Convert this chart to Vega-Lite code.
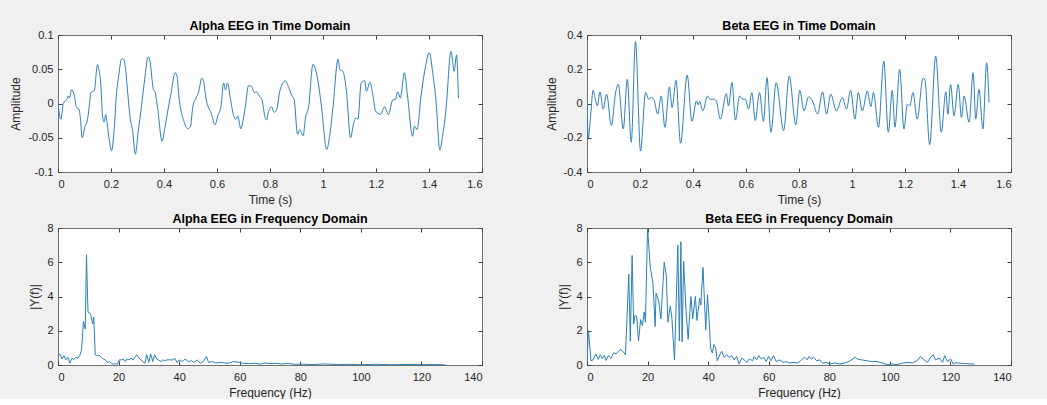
{
  "$schema": "https://vega.github.io/schema/vega-lite/v6.json",
  "background": "#f0f0f0",
  "padding": {"left": 9, "top": 19, "right": 42, "bottom": 0},
  "config": {
    "font": "Liberation Sans",
    "view": {"fill": "white", "stroke": "#707070", "strokeWidth": 1},
    "axis": {"domain": false, "grid": false, "tickSize": -4, "tickColor": "#404040", "labelColor": "#262626", "labelFontSize": 11, "labelFont": "Liberation Sans", "titleFont": "Liberation Sans", "titleFontSize": 12, "titleFontWeight": "normal", "titleColor": "#262626", "titlePadding": 5},
    "axisX": {"labelPadding": 10},
    "axisY": {"labelPadding": 9},
    "title": {"fontSize": 12.5, "fontWeight": "bold", "font": "Liberation Sans", "color": "#000000", "frame": "group", "offset": -3},
    "line": {"color": "#2a7fba", "strokeWidth": 1}
  },
  "datasets": {
    "alphaTime": [
      {"t":0.000,"v":0.000},{"t":0.011,"v":-0.023},{"t":0.020,"v":0.000},{"t":0.033,"v":0.006},{"t":0.039,"v":0.011},{"t":0.043,"v":0.008},{"t":0.051,"v":0.020},{"t":0.061,"v":0.013},{"t":0.070,"v":-0.006},{"t":0.079,"v":-0.008},{"t":0.085,"v":-0.023},{"t":0.091,"v":-0.050},{"t":0.102,"v":-0.033},{"t":0.110,"v":-0.026},{"t":0.118,"v":-0.004},{"t":0.124,"v":0.016},{"t":0.137,"v":0.019},{"t":0.149,"v":0.057},{"t":0.154,"v":0.050},{"t":0.162,"v":0.025},{"t":0.168,"v":-0.018},{"t":0.174,"v":-0.027},{"t":0.180,"v":-0.016},{"t":0.185,"v":-0.028},{"t":0.195,"v":-0.057},{"t":0.202,"v":-0.069},{"t":0.212,"v":-0.038},{"t":0.221,"v":0.016},{"t":0.229,"v":0.040},{"t":0.239,"v":0.064},{"t":0.246,"v":0.065},{"t":0.254,"v":0.054},{"t":0.262,"v":0.020},{"t":0.273,"v":-0.023},{"t":0.281,"v":-0.038},{"t":0.292,"v":-0.074},{"t":0.302,"v":-0.043},{"t":0.315,"v":-0.004},{"t":0.327,"v":0.035},{"t":0.340,"v":0.068},{"t":0.346,"v":0.064},{"t":0.355,"v":0.035},{"t":0.360,"v":0.020},{"t":0.365,"v":0.018},{"t":0.375,"v":-0.004},{"t":0.393,"v":-0.055},{"t":0.402,"v":-0.038},{"t":0.415,"v":-0.009},{"t":0.427,"v":0.016},{"t":0.442,"v":0.045},{"t":0.449,"v":0.040},{"t":0.456,"v":0.011},{"t":0.477,"v":-0.028},{"t":0.490,"v":-0.037},{"t":0.500,"v":-0.033},{"t":0.509,"v":-0.004},{"t":0.521,"v":0.008},{"t":0.530,"v":0.016},{"t":0.543,"v":0.037},{"t":0.549,"v":0.033},{"t":0.559,"v":0.006},{"t":0.578,"v":-0.014},{"t":0.593,"v":-0.031},{"t":0.603,"v":-0.018},{"t":0.615,"v":-0.004},{"t":0.625,"v":0.030},{"t":0.632,"v":0.020},{"t":0.640,"v":0.030},{"t":0.649,"v":0.011},{"t":0.663,"v":-0.018},{"t":0.672,"v":-0.023},{"t":0.678,"v":-0.018},{"t":0.690,"v":-0.037},{"t":0.699,"v":-0.023},{"t":0.709,"v":0.001},{"t":0.718,"v":0.026},{"t":0.731,"v":0.025},{"t":0.741,"v":0.016},{"t":0.749,"v":0.017},{"t":0.759,"v":0.011},{"t":0.769,"v":0.006},{"t":0.782,"v":-0.021},{"t":0.787,"v":-0.024},{"t":0.793,"v":-0.014},{"t":0.806,"v":-0.005},{"t":0.816,"v":-0.013},{"t":0.825,"v":-0.009},{"t":0.837,"v":0.018},{"t":0.858,"v":0.033},{"t":0.871,"v":0.023},{"t":0.883,"v":0.011},{"t":0.891,"v":0.006},{"t":0.904,"v":-0.045},{"t":0.912,"v":-0.038},{"t":0.925,"v":-0.047},{"t":0.934,"v":-0.021},{"t":0.946,"v":-0.004},{"t":0.962,"v":0.057},{"t":0.981,"v":0.033},{"t":0.994,"v":-0.004},{"t":1.014,"v":-0.067},{"t":1.025,"v":-0.048},{"t":1.038,"v":-0.004},{"t":1.057,"v":0.065},{"t":1.063,"v":0.050},{"t":1.075,"v":0.047},{"t":1.088,"v":0.020},{"t":1.104,"v":-0.050},{"t":1.116,"v":-0.028},{"t":1.125,"v":-0.021},{"t":1.132,"v":-0.023},{"t":1.144,"v":0.030},{"t":1.157,"v":0.033},{"t":1.164,"v":0.018},{"t":1.177,"v":0.031},{"t":1.188,"v":0.013},{"t":1.198,"v":-0.011},{"t":1.211,"v":-0.015},{"t":1.217,"v":-0.016},{"t":1.232,"v":-0.005},{"t":1.247,"v":-0.016},{"t":1.263,"v":0.005},{"t":1.273,"v":0.006},{"t":1.282,"v":0.017},{"t":1.292,"v":0.008},{"t":1.307,"v":0.045},{"t":1.319,"v":0.011},{"t":1.338,"v":-0.048},{"t":1.345,"v":-0.033},{"t":1.355,"v":-0.038},{"t":1.370,"v":0.011},{"t":1.385,"v":0.050},{"t":1.401,"v":0.074},{"t":1.414,"v":0.045},{"t":1.426,"v":0.006},{"t":1.441,"v":-0.068},{"t":1.451,"v":-0.048},{"t":1.464,"v":-0.009},{"t":1.483,"v":0.076},{"t":1.495,"v":0.047},{"t":1.504,"v":0.071},{"t":1.511,"v":0.008}
    ],
    "betaTime": [
      {"t":0.000,"v":0.006},{"t":0.005,"v":-0.201},{"t":0.014,"v":-0.062},{"t":0.023,"v":0.077},{"t":0.030,"v":0.035},{"t":0.039,"v":-0.014},{"t":0.049,"v":0.068},{"t":0.061,"v":-0.033},{"t":0.074,"v":0.054},{"t":0.092,"v":-0.129},{"t":0.108,"v":0.064},{"t":0.118,"v":0.112},{"t":0.137,"v":-0.149},{"t":0.152,"v":0.141},{"t":0.167,"v":-0.226},{"t":0.183,"v":0.363},{"t":0.202,"v":-0.278},{"t":0.221,"v":0.064},{"t":0.233,"v":0.025},{"t":0.243,"v":0.035},{"t":0.252,"v":0.025},{"t":0.267,"v":-0.062},{"t":0.280,"v":0.044},{"t":0.294,"v":-0.139},{"t":0.311,"v":0.097},{"t":0.321,"v":-0.023},{"t":0.336,"v":0.135},{"t":0.353,"v":-0.232},{"t":0.378,"v":0.166},{"t":0.396,"v":-0.104},{"t":0.413,"v":0.015},{"t":0.419,"v":-0.008},{"t":0.425,"v":0.012},{"t":0.437,"v":-0.043},{"t":0.455,"v":0.044},{"t":0.465,"v":0.025},{"t":0.478,"v":0.025},{"t":0.488,"v":0.015},{"t":0.503,"v":-0.091},{"t":0.526,"v":0.058},{"t":0.534,"v":-0.014},{"t":0.547,"v":0.122},{"t":0.560,"v":-0.097},{"t":0.576,"v":0.044},{"t":0.588,"v":0.025},{"t":0.597,"v":0.025},{"t":0.610,"v":-0.033},{"t":0.622,"v":0.064},{"t":0.635,"v":-0.100},{"t":0.651,"v":0.064},{"t":0.666,"v":-0.104},{"t":0.679,"v":0.151},{"t":0.694,"v":-0.168},{"t":0.714,"v":0.122},{"t":0.742,"v":-0.158},{"t":0.763,"v":0.160},{"t":0.788,"v":-0.124},{"t":0.803,"v":0.077},{"t":0.819,"v":-0.043},{"t":0.836,"v":0.039},{"t":0.851,"v":0.015},{"t":0.870,"v":-0.062},{"t":0.889,"v":0.068},{"t":0.904,"v":-0.062},{"t":0.920,"v":0.054},{"t":0.941,"v":-0.043},{"t":0.964,"v":0.035},{"t":0.979,"v":-0.033},{"t":0.995,"v":0.077},{"t":1.011,"v":-0.091},{"t":1.024,"v":0.064},{"t":1.039,"v":-0.043},{"t":1.058,"v":0.073},{"t":1.071,"v":-0.019},{"t":1.081,"v":0.064},{"t":1.100,"v":-0.139},{"t":1.120,"v":0.247},{"t":1.137,"v":-0.168},{"t":1.152,"v":0.077},{"t":1.162,"v":-0.139},{"t":1.180,"v":0.199},{"t":1.196,"v":-0.149},{"t":1.209,"v":-0.004},{"t":1.218,"v":-0.014},{"t":1.230,"v":0.064},{"t":1.246,"v":-0.091},{"t":1.268,"v":0.147},{"t":1.275,"v":0.141},{"t":1.293,"v":-0.240},{"t":1.316,"v":0.276},{"t":1.337,"v":-0.168},{"t":1.354,"v":0.068},{"t":1.362,"v":-0.062},{"t":1.372,"v":0.112},{"t":1.385,"v":-0.072},{"t":1.401,"v":0.112},{"t":1.413,"v":-0.081},{"t":1.423,"v":0.044},{"t":1.442,"v":-0.110},{"t":1.457,"v":0.180},{"t":1.467,"v":-0.091},{"t":1.479,"v":0.083},{"t":1.494,"v":-0.149},{"t":1.508,"v":0.238},{"t":1.517,"v":0.006}
    ],
    "alphaFreq": [
      {"f":0,"m":0.55},{"f":0.7,"m":0.65},{"f":1.3,"m":0.35},{"f":2.0,"m":0.55},{"f":2.6,"m":0.3},{"f":3.3,"m":0.45},{"f":3.9,"m":0.1},{"f":4.6,"m":0.4},{"f":5.2,"m":0.3},{"f":5.9,"m":0.45},{"f":6.5,"m":0.4},{"f":7.2,"m":0.55},{"f":7.8,"m":0.9},{"f":8.4,"m":2.55},{"f":9.0,"m":2.1},{"f":9.4,"m":6.44},{"f":9.9,"m":3.1},{"f":10.7,"m":3.0},{"f":11.5,"m":2.4},{"f":11.8,"m":2.8},{"f":12.3,"m":0.6},{"f":13.0,"m":0.55},{"f":13.7,"m":0.55},{"f":14.3,"m":0.45},{"f":15.0,"m":0.35},{"f":15.6,"m":0.3},{"f":16.3,"m":0.15},{"f":17.0,"m":0.2},{"f":17.6,"m":0.1},{"f":18.3,"m":0.05},{"f":19.0,"m":0.08},{"f":19.6,"m":0.05},{"f":20.2,"m":0.3},{"f":21.0,"m":0.3},{"f":21.5,"m":0.35},{"f":22.2,"m":0.2},{"f":22.8,"m":0.35},{"f":23.5,"m":0.3},{"f":24.1,"m":0.4},{"f":24.8,"m":0.3},{"f":25.4,"m":0.45},{"f":26.0,"m":0.6},{"f":26.7,"m":0.4},{"f":27.4,"m":0.3},{"f":28.0,"m":0.2},{"f":28.7,"m":0.1},{"f":29.3,"m":0.6},{"f":30.0,"m":0.15},{"f":30.6,"m":0.65},{"f":31.3,"m":0.2},{"f":31.9,"m":0.6},{"f":32.6,"m":0.35},{"f":33.2,"m":0.3},{"f":34.0,"m":0.2},{"f":34.6,"m":0.3},{"f":35.2,"m":0.25},{"f":36.0,"m":0.3},{"f":37.0,"m":0.3},{"f":38.0,"m":0.3},{"f":38.5,"m":0.4},{"f":39.3,"m":0.15},{"f":40.0,"m":0.3},{"f":41.0,"m":0.2},{"f":42.0,"m":0.35},{"f":43.0,"m":0.2},{"f":44.0,"m":0.25},{"f":45.0,"m":0.15},{"f":46.0,"m":0.3},{"f":47.0,"m":0.1},{"f":48.0,"m":0.2},{"f":49.0,"m":0.5},{"f":49.7,"m":0.15},{"f":51,"m":0.2},{"f":52,"m":0.12},{"f":54,"m":0.15},{"f":56,"m":0.1},{"f":58,"m":0.2},{"f":60,"m":0.15},{"f":61,"m":0.1},{"f":63,"m":0.08},{"f":65,"m":0.1},{"f":67,"m":0.05},{"f":68,"m":0.12},{"f":70,"m":0.08},{"f":72,"m":0.1},{"f":74,"m":0.06},{"f":76,"m":0.1},{"f":78,"m":0.04},{"f":80,"m":0.05},{"f":84,"m":0.03},{"f":88,"m":0.06},{"f":92,"m":0.03},{"f":96,"m":0.04},{"f":100,"m":0.02},{"f":105,"m":0.04},{"f":110,"m":0.02},{"f":115,"m":0.03},{"f":120,"m":0.02},{"f":124,"m":0.03},{"f":128,"m":0.01}
    ],
    "betaFreq": [
      {"f":0,"m":0.3},{"f":0.5,"m":2.0},{"f":1.3,"m":0.25},{"f":2.0,"m":0.3},{"f":2.9,"m":0.65},{"f":3.7,"m":0.33},{"f":4.4,"m":0.6},{"f":5.0,"m":0.37},{"f":5.7,"m":0.56},{"f":6.3,"m":0.27},{"f":7.1,"m":0.56},{"f":7.9,"m":0.37},{"f":8.8,"m":0.71},{"f":9.6,"m":0.65},{"f":10.4,"m":0.8},{"f":11.2,"m":0.9},{"f":11.8,"m":0.8},{"f":12.7,"m":0.6},{"f":13.8,"m":5.3},{"f":14.3,"m":1.4},{"f":14.9,"m":6.4},{"f":15.4,"m":2.4},{"f":15.9,"m":2.9},{"f":16.4,"m":2.85},{"f":17.0,"m":1.4},{"f":17.7,"m":2.65},{"f":18.3,"m":2.3},{"f":18.9,"m":3.1},{"f":19.3,"m":2.5},{"f":20.0,"m":8.0},{"f":20.9,"m":5.7},{"f":21.8,"m":4.75},{"f":22.5,"m":2.25},{"f":22.8,"m":4.2},{"f":23.6,"m":3.8},{"f":24.4,"m":2.7},{"f":25.5,"m":6.0},{"f":26.2,"m":5.2},{"f":26.7,"m":2.5},{"f":27.5,"m":3.45},{"f":28.0,"m":2.8},{"f":28.9,"m":0.3},{"f":30.0,"m":7.0},{"f":30.5,"m":1.4},{"f":31.0,"m":7.2},{"f":31.4,"m":1.35},{"f":31.9,"m":6.05},{"f":32.7,"m":3.2},{"f":33.4,"m":1.5},{"f":34.3,"m":4.0},{"f":34.9,"m":2.7},{"f":35.8,"m":4.0},{"f":36.3,"m":2.6},{"f":37.2,"m":3.9},{"f":37.6,"m":3.5},{"f":38.3,"m":5.7},{"f":39.2,"m":2.05},{"f":39.8,"m":4.1},{"f":40.5,"m":2.05},{"f":40.8,"m":1.0},{"f":41.4,"m":0.7},{"f":41.9,"m":1.2},{"f":42.5,"m":1.0},{"f":43.0,"m":0.25},{"f":44.1,"m":0.7},{"f":44.5,"m":0.8},{"f":45.3,"m":0.45},{"f":46.1,"m":0.6},{"f":46.9,"m":0.45},{"f":47.8,"m":0.55},{"f":48.6,"m":0.3},{"f":49.4,"m":0.5},{"f":50.2,"m":0.05},{"f":51.1,"m":0.4},{"f":51.9,"m":0.3},{"f":52.8,"m":0.15},{"f":53.6,"m":0.35},{"f":54.7,"m":0.25},{"f":55.2,"m":0.5},{"f":56.0,"m":0.3},{"f":56.7,"m":0.55},{"f":57.5,"m":0.35},{"f":58.3,"m":0.45},{"f":59.1,"m":0.2},{"f":60.0,"m":0.5},{"f":60.8,"m":0.25},{"f":61.6,"m":0.55},{"f":62.5,"m":0.2},{"f":63.6,"m":0.3},{"f":64.7,"m":0.15},{"f":65.8,"m":0.2},{"f":66.9,"m":0.12},{"f":68.0,"m":0.15},{"f":69.7,"m":0.12},{"f":70.8,"m":0.3},{"f":71.9,"m":0.45},{"f":72.7,"m":0.3},{"f":73.3,"m":0.5},{"f":74.1,"m":0.35},{"f":74.9,"m":0.45},{"f":75.8,"m":0.25},{"f":76.9,"m":0.3},{"f":77.8,"m":0.1},{"f":78.9,"m":0.15},{"f":80.2,"m":0.06},{"f":81.9,"m":0.12},{"f":83.5,"m":0.06},{"f":85.2,"m":0.12},{"f":86.9,"m":0.25},{"f":88.5,"m":0.45},{"f":89.3,"m":0.35},{"f":90.7,"m":0.3},{"f":92.4,"m":0.25},{"f":94.1,"m":0.2},{"f":95.7,"m":0.2},{"f":97.4,"m":0.12},{"f":99.1,"m":0.02},{"f":100.7,"m":0.06},{"f":102.4,"m":0.02},{"f":104.0,"m":0.1},{"f":105.7,"m":0.15},{"f":107.4,"m":0.12},{"f":109.0,"m":0.25},{"f":110.1,"m":0.5},{"f":111.3,"m":0.3},{"f":112.4,"m":0.15},{"f":113.5,"m":0.45},{"f":114.3,"m":0.6},{"f":115.1,"m":0.3},{"f":116.3,"m":0.4},{"f":117.4,"m":0.15},{"f":118.1,"m":0.55},{"f":119.0,"m":0.2},{"f":120.1,"m":0.35},{"f":120.9,"m":0.06},{"f":121.8,"m":0.13},{"f":123.5,"m":0.1},{"f":125.1,"m":0.08},{"f":126.8,"m":0.06},{"f":127.9,"m":0.06}
    ]
  },
  "spacing": 61,
  "hconcat": [
    {
      "spacing": 6,
      "vconcat": [
        {
          "title": "Alpha EEG in Time Domain",
          "width": 424, "height": 137,
          "data": {"name": "alphaTime"},
          "layer": [
            {"mark": {"type": "line", "interpolate": "monotone", "clip": true},
             "encoding": {
               "x": {"field": "t", "type": "quantitative", "scale": {"domain": [0, 1.6], "nice": false, "zero": false}, "axis": {"title": "Time (s)", "values": [0,0.2,0.4,0.6,0.8,1,1.2,1.4,1.6], "labelExpr": "datum.value + ''"}},
               "y": {"field": "v", "type": "quantitative", "scale": {"domain": [-0.1, 0.1], "nice": false, "zero": false}, "axis": {"title": "Amplitude", "values": [-0.1,-0.05,0,0.05,0.1], "labelExpr": "datum.value + ''"}}
             }},
            {"mark": {"type": "line", "opacity": 0},
             "encoding": {
               "x": {"field": "t", "type": "quantitative", "axis": {"orient": "top", "labels": false, "title": null, "values": [0,0.2,0.4,0.6,0.8,1,1.2,1.4,1.6]}},
               "y": {"field": "v", "type": "quantitative", "axis": {"orient": "right", "labels": false, "title": null, "values": [-0.1,-0.05,0,0.05,0.1]}}
             }}
          ],
          "resolve": {"axis": {"x": "independent", "y": "independent"}}
        },
        {
          "title": "Alpha EEG in Frequency Domain",
          "width": 424, "height": 137,
          "data": {"name": "alphaFreq"},
          "layer": [
            {"mark": {"type": "line", "clip": true},
             "encoding": {
               "x": {"field": "f", "type": "quantitative", "scale": {"domain": [0, 140], "nice": false}, "axis": {"title": "Frequency (Hz)", "values": [0,20,40,60,80,100,120,140], "labelExpr": "datum.value + ''"}},
               "y": {"field": "m", "type": "quantitative", "scale": {"domain": [0, 8], "nice": false}, "axis": {"title": "|Y(f)|", "values": [0,2,4,6,8], "labelExpr": "datum.value + ''"}}
             }},
            {"mark": {"type": "line", "opacity": 0},
             "encoding": {
               "x": {"field": "f", "type": "quantitative", "axis": {"orient": "top", "labels": false, "title": null, "values": [0,20,40,60,80,100,120,140]}},
               "y": {"field": "m", "type": "quantitative", "axis": {"orient": "right", "labels": false, "title": null, "values": [0,2,4,6,8]}}
             }}
          ],
          "resolve": {"axis": {"x": "independent", "y": "independent"}}
        }
      ]
    },
    {
      "spacing": 6,
      "vconcat": [
        {
          "title": "Beta EEG in Time Domain",
          "width": 424, "height": 137,
          "data": {"name": "betaTime"},
          "layer": [
            {"mark": {"type": "line", "interpolate": "monotone", "clip": true},
             "encoding": {
               "x": {"field": "t", "type": "quantitative", "scale": {"domain": [0, 1.6], "nice": false, "zero": false}, "axis": {"title": "Time (s)", "values": [0,0.2,0.4,0.6,0.8,1,1.2,1.4,1.6], "labelExpr": "datum.value + ''"}},
               "y": {"field": "v", "type": "quantitative", "scale": {"domain": [-0.4, 0.4], "nice": false, "zero": false}, "axis": {"title": "Amplitude", "values": [-0.4,-0.2,0,0.2,0.4], "labelExpr": "datum.value + ''"}}
             }},
            {"mark": {"type": "line", "opacity": 0},
             "encoding": {
               "x": {"field": "t", "type": "quantitative", "axis": {"orient": "top", "labels": false, "title": null, "values": [0,0.2,0.4,0.6,0.8,1,1.2,1.4,1.6]}},
               "y": {"field": "v", "type": "quantitative", "axis": {"orient": "right", "labels": false, "title": null, "values": [-0.4,-0.2,0,0.2,0.4]}}
             }}
          ],
          "resolve": {"axis": {"x": "independent", "y": "independent"}}
        },
        {
          "title": "Beta EEG in Frequency Domain",
          "width": 424, "height": 137,
          "data": {"name": "betaFreq"},
          "layer": [
            {"mark": {"type": "line", "clip": true},
             "encoding": {
               "x": {"field": "f", "type": "quantitative", "scale": {"domain": [0, 140], "nice": false}, "axis": {"title": "Frequency (Hz)", "values": [0,20,40,60,80,100,120,140], "labelExpr": "datum.value + ''"}},
               "y": {"field": "m", "type": "quantitative", "scale": {"domain": [0, 8], "nice": false}, "axis": {"title": "|Y(f)|", "values": [0,2,4,6,8], "labelExpr": "datum.value + ''"}}
             }},
            {"mark": {"type": "line", "opacity": 0},
             "encoding": {
               "x": {"field": "f", "type": "quantitative", "axis": {"orient": "top", "labels": false, "title": null, "values": [0,20,40,60,80,100,120,140]}},
               "y": {"field": "m", "type": "quantitative", "axis": {"orient": "right", "labels": false, "title": null, "values": [0,2,4,6,8]}}
             }}
          ],
          "resolve": {"axis": {"x": "independent", "y": "independent"}}
        }
      ]
    }
  ]
}
